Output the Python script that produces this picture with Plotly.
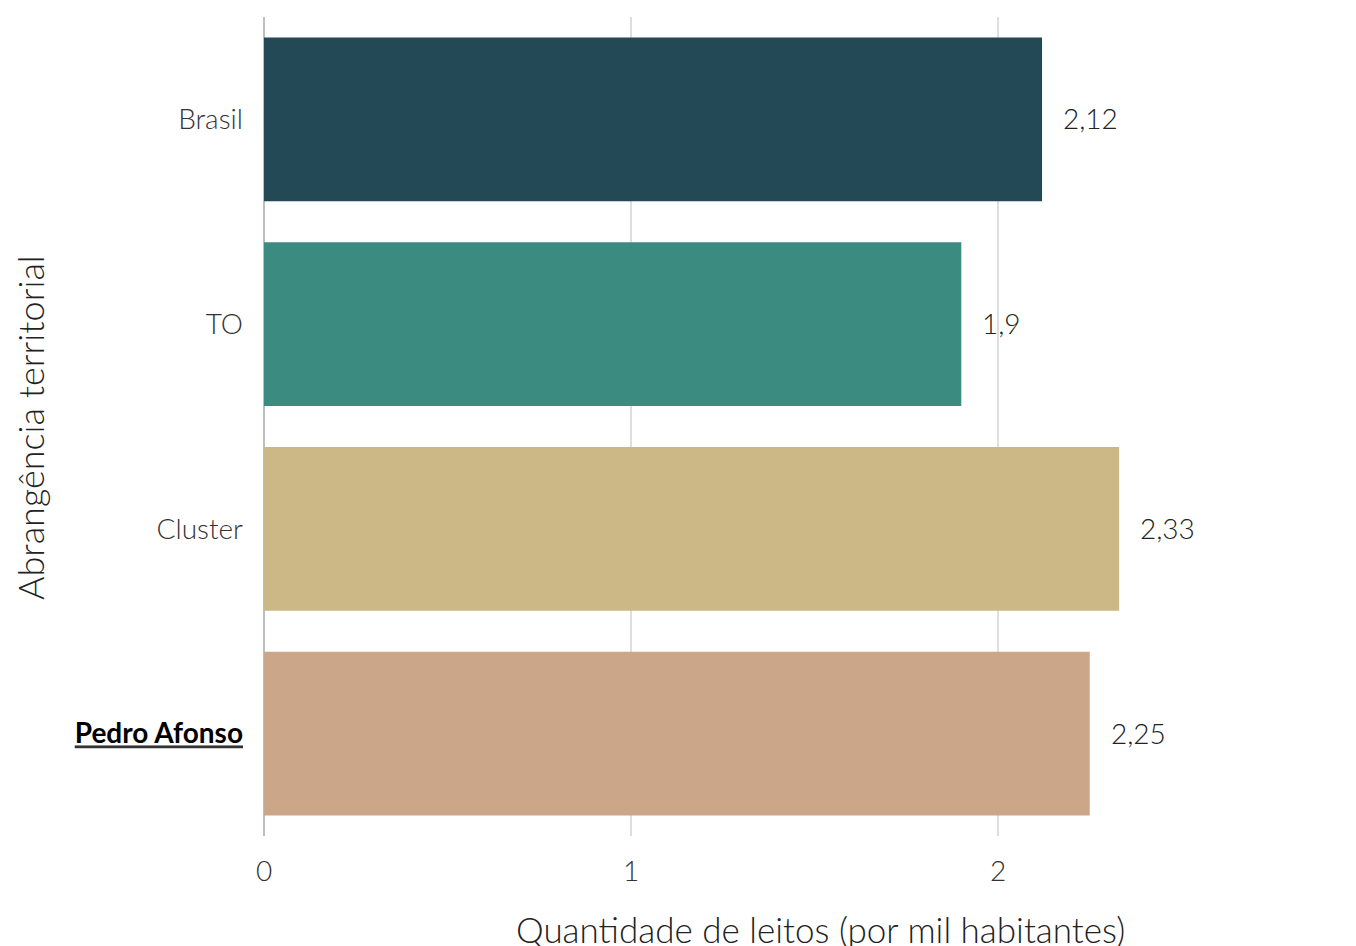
import plotly.graph_objects as go

categories = ["Brasil", "TO", "Cluster", "Pedro Afonso"]
values = [2.12, 1.90, 2.33, 2.25]
value_labels = ["2,12", "1,9", "2,33", "2,25"]
colors = ["#234856", "#3c8b81", "#cbb886", "#cba689"]
tick_labels = ["Brasil", "TO", "Cluster",
               "<b><u><span style='color:#000000'>Pedro Afonso</span></u></b>"]

# page has an 8px body margin; figure is sized so the plot lands where the reference has it
OFF = 8
W, H = 1356 - OFF, 946 - OFF
PL, PT, PB, PR = 264, 17, 836, 1356   # plot area in page pixels
L, T = PL - OFF, PT - OFF
B = H - (PB - OFF)
R = W - (PR - OFF)
pw, ph = PR - PL, PB - PT
xmax = pw / 367.0

FONT = "Lato"

fig = go.Figure()
fig.add_trace(go.Bar(
    y=categories, x=values, orientation="h",
    marker=dict(color=colors, line=dict(width=0)),
    width=0.8, hoverinfo="skip", showlegend=False,
))

for c, v, t in zip(categories, values, value_labels):
    fig.add_annotation(x=v, y=c, xref="x", yref="y", text=t, showarrow=False,
                       xanchor="left", yanchor="middle", xshift=19, yshift=1,
                       font=dict(family=FONT, size=28, color="#222222", weight=300))

fig.add_annotation(x=(820 - PL) / pw, y=-(929 - PB) / ph, xref="paper", yref="paper",
                   text="Quantidade de leitos (por mil habitantes)", showarrow=False,
                   xanchor="center", yanchor="middle",
                   font=dict(family=FONT, size=35, color="#222222", weight=300))
fig.add_annotation(x=(30 - PL) / pw, y=1 - (428 - PT) / ph, xref="paper", yref="paper",
                   text="Abrangência territorial", showarrow=False, textangle=-90,
                   xanchor="center", yanchor="middle",
                   font=dict(family=FONT, size=36, color="#222222", weight=300))

fig.update_layout(
    width=W, height=H,
    margin=dict(l=L, r=R, t=T, b=B, pad=0),
    paper_bgcolor="white", plot_bgcolor="white",
    bargap=0.2,
    font=dict(family=FONT, size=28, color="#333333", weight=300),
    xaxis=dict(range=[0, xmax], tickvals=[0, 1, 2], ticktext=["0", "1", "2"],
               showgrid=True, gridcolor="#dedede", gridwidth=2,
               zeroline=True, zerolinecolor="#bdbdbd", zerolinewidth=2,
               showline=False, ticks="", ticklabelstandoff=16,
               tickfont=dict(family=FONT, size=28, color="#333333", weight=300),
               fixedrange=True),
    yaxis=dict(categoryorder="array", categoryarray=categories, autorange="reversed",
               tickvals=categories, ticktext=tick_labels,
               showgrid=False, zeroline=False, showline=False, ticks="",
               ticklabelstandoff=20,
               tickfont=dict(family=FONT, size=28, color="#333333", weight=300),
               fixedrange=True),
)

fig.write_html("out.html", config={"displayModeBar": False})
